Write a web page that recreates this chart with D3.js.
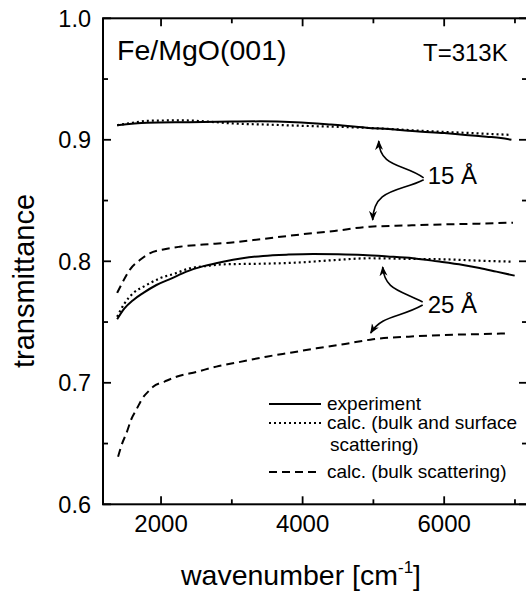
<!DOCTYPE html>
<html>
<head>
<meta charset="utf-8">
<script src="https://cdn.jsdelivr.net/npm/d3@7"></script>
<style>
  body { margin: 0; background: #fff; }
  text { font-family: Arial, "Liberation Sans", sans-serif; fill: #000; }
</style>
</head>
<body>
<svg id="chart" width="526" height="591"></svg>
<script>
// wavenumber (cm-1) sample points
var expt15X = [1380, 1800, 2400, 3000, 3400, 3900, 4400, 4900, 5300, 5600, 6000, 6300, 6600, 6800, 6950];
var expt15Y = [0.912, 0.914, 0.9145, 0.915, 0.9152, 0.9145, 0.9125, 0.910, 0.9085, 0.907, 0.9055, 0.904, 0.9025, 0.9015, 0.900];
var surf15X = [1380, 1600, 1840, 2300, 2700, 3000, 3500, 4000, 4600, 5200, 5800, 6400, 6950];
var surf15Y = [0.912, 0.914, 0.9157, 0.916, 0.9148, 0.9135, 0.9125, 0.9115, 0.9105, 0.909, 0.907, 0.9055, 0.904];
var bulk15X = [1380, 1450, 1558, 1700, 1840, 2050, 2264, 2600, 2970, 3450, 3912, 4450, 4948, 5500, 6031, 6500, 6972];
var bulk15Y = [0.774, 0.782, 0.793, 0.801, 0.8066, 0.810, 0.812, 0.8138, 0.8153, 0.8185, 0.8217, 0.825, 0.8285, 0.8295, 0.8304, 0.831, 0.8318];

var expt25X = [1380, 1480, 1605, 1750, 1935, 2150, 2359, 2600, 2876, 3150, 3441, 3800, 4147, 4500, 4853, 5200, 5559, 5900, 6266, 6500, 6737, 6996];
var expt25Y = [0.7523, 0.761, 0.768, 0.774, 0.7805, 0.786, 0.7915, 0.796, 0.7997, 0.8025, 0.8044, 0.8055, 0.806, 0.8058, 0.8052, 0.804, 0.8025, 0.800, 0.797, 0.7945, 0.7915, 0.7882];
var surf25X = [1380, 1480, 1605, 1780, 1982, 2200, 2405, 2650, 2876, 3400, 3912, 4450, 4948, 5500, 6031, 6500, 6972];
var surf25Y = [0.7544, 0.765, 0.7737, 0.780, 0.786, 0.790, 0.7942, 0.7962, 0.7975, 0.798, 0.7989, 0.801, 0.8025, 0.802, 0.8016, 0.8005, 0.7997];
var bulk25X = [1393, 1450, 1510, 1580, 1652, 1740, 1840, 1888, 2050, 2217, 2500, 2782, 3100, 3489, 3850, 4195, 4600, 4994, 5500, 5983, 6450, 6920];
var bulk25Y = [0.6392, 0.650, 0.6584, 0.670, 0.678, 0.6875, 0.694, 0.6968, 0.701, 0.705, 0.709, 0.7133, 0.717, 0.7215, 0.725, 0.7284, 0.732, 0.7358, 0.738, 0.7393, 0.740, 0.7407];

var xTicks = [2000, 4000, 6000];
var xMinor = [3000, 5000, 7000];
var yTicks = [0.6, 0.7, 0.8, 0.9, 1.0];
var yMinor = [0.65, 0.75, 0.85, 0.95];

var legendLabels = ["experiment", "calc. (bulk and surface", "calc. (bulk scattering)"];

// annotation arrows in data units: start, ctrl1, ctrl2, tip
var arrows = [
  [[5710, 0.8686], [5442, 0.8801], [5089, 0.8768], [5075, 0.899]],
  [[5710, 0.8671], [5371, 0.857], [5004, 0.8603], [4990, 0.834]],
  [[5696, 0.7665], [5371, 0.7764], [5160, 0.7764], [5131, 0.7953]],
  [[5696, 0.764], [5371, 0.7533], [5117, 0.7558], [4962, 0.741]]
];

var svg = d3.select("#chart");
var pLeft = 103, pRight = 527, pTop = 18.3, pBottom = 504.3;

var x = d3.scaleLinear().domain([1180, 7170]).range([pLeft, pRight]);
var y = d3.scaleLinear().domain([0.6, 1.0]).range([pBottom, pTop]);

var zip = function(xs, ys){ return xs.map(function(v, i){ return [v, ys[i]]; }); };

var series = [
  {pts: zip(expt15X, expt15Y), dash: null},
  {pts: zip(surf15X, surf15Y), dash: "2,3"},
  {pts: zip(bulk15X, bulk15Y), dash: "8,5"},
  {pts: zip(expt25X, expt25Y), dash: null},
  {pts: zip(surf25X, surf25Y), dash: "2,3"},
  {pts: zip(bulk25X, bulk25Y), dash: "8,5"}
];

var line = d3.line()
  .x(function(d){ return x(d[0]); })
  .y(function(d){ return y(d[1]); })
  .curve(d3.curveMonotoneX);

svg.append("g").selectAll("path")
  .data(series)
  .enter()
  .append("path")
  .attr("d", function(d){ return line(d.pts); })
  .attr("fill", "none")
  .attr("stroke", "#000")
  .attr("stroke-width", function(d){ return d.dash == "2,3" ? 2.2 : 2; })
  .attr("stroke-dasharray", function(d){ return d.dash; });

// frame
svg.append("rect")
  .attr("x", pLeft).attr("y", pTop)
  .attr("width", pRight - pLeft).attr("height", pBottom - pTop)
  .attr("fill", "none").attr("stroke", "#000").attr("stroke-width", 2);

// inward ticks on all four sides
var tickG = svg.append("g").attr("stroke", "#000").attr("stroke-width", 1.8);
xTicks.concat(xMinor).forEach(function(v){
  var len = xTicks.indexOf(v) >= 0 ? 8 : 5;
  tickG.append("line").attr("x1", x(v)).attr("x2", x(v)).attr("y1", pBottom).attr("y2", pBottom - len);
  tickG.append("line").attr("x1", x(v)).attr("x2", x(v)).attr("y1", pTop).attr("y2", pTop + len);
});
yTicks.concat(yMinor).forEach(function(v){
  var len = yTicks.indexOf(v) >= 0 ? 8 : 5;
  tickG.append("line").attr("x1", pLeft).attr("x2", pLeft + len).attr("y1", y(v)).attr("y2", y(v));
  tickG.append("line").attr("x1", pRight).attr("x2", pRight - len).attr("y1", y(v)).attr("y2", y(v));
});

svg.append("g").selectAll("text")
  .data(xTicks)
  .enter()
  .append("text")
  .attr("x", function(d){ return x(d); })
  .attr("y", 532)
  .attr("text-anchor", "middle")
  .style("font-size", "24px")
  .text(function(d){ return d; });

svg.append("g").selectAll("text")
  .data(yTicks)
  .enter()
  .append("text")
  .attr("x", 91)
  .attr("y", function(d){ return y(d) + 8.5; })
  .attr("text-anchor", "end")
  .style("font-size", "23.5px")
  .text(function(d){ return d.toFixed(1); });

// axis titles
var xl = svg.append("text")
  .attr("x", 301).attr("y", 585)
  .attr("text-anchor", "middle")
  .style("font-size", "28.5px");
xl.append("tspan").text("wavenumber [cm");
xl.append("tspan").attr("dy", -12).style("font-size", "17px").text("-1");
xl.append("tspan").attr("dy", 12).text("]");

svg.append("text")
  .attr("transform", "translate(34,281) rotate(-90)")
  .attr("text-anchor", "middle")
  .style("font-size", "29px")
  .text("transmittance");

svg.append("text").attr("x", 117).attr("y", 60).style("font-size", "28.5px").text("Fe/MgO(001)");
svg.append("text").attr("x", 423).attr("y", 61).style("font-size", "24px").text("T=313K");

// annotations
svg.append("defs").append("marker")
  .attr("id", "head")
  .attr("viewBox", "0 0 10 10")
  .attr("refX", 9).attr("refY", 5)
  .attr("markerWidth", 10).attr("markerHeight", 10)
  .attr("markerUnits", "userSpaceOnUse")
  .attr("orient", "auto")
  .append("path")
  .attr("d", "M0,1 L10,5 L0,9 L3,5 Z")
  .attr("fill", "#000");

svg.append("g").selectAll("path")
  .data(arrows)
  .enter()
  .append("path")
  .attr("d", function(a){
    var p = a.map(function(q){ return [x(q[0]), y(q[1])]; });
    return "M" + p[0] + "C" + p[1] + " " + p[2] + " " + p[3];
  })
  .attr("fill", "none")
  .attr("stroke", "#000")
  .attr("stroke-width", 1.6)
  .attr("marker-end", "url(#head)");

svg.append("text").attr("x", x(5767)).attr("y", y(0.8636)).style("font-size", "24px").text("15 Å");
svg.append("text").attr("x", x(5767)).attr("y", y(0.7575)).style("font-size", "24px").text("25 Å");

// legend
var legRows = [
  {y: 404, dash: null, text: legendLabels[0]},
  {y: 423, dash: "2,3", text: legendLabels[1]},
  {y: 472, dash: "8,5", text: legendLabels[2]}
];
var leg = svg.append("g");
leg.selectAll("line")
  .data(legRows)
  .enter()
  .append("line")
  .attr("x1", 269).attr("x2", 321)
  .attr("y1", function(d){ return d.y; }).attr("y2", function(d){ return d.y; })
  .attr("stroke", "#000").attr("stroke-width", 2)
  .attr("stroke-dasharray", function(d){ return d.dash; });
leg.selectAll("text")
  .data(legRows)
  .enter()
  .append("text")
  .attr("x", 327)
  .attr("y", function(d){ return d.y + 6; })
  .style("font-size", "19px")
  .text(function(d){ return d.text; });
leg.append("text").attr("x", 330).attr("y", 451).style("font-size", "19px").text("scattering)");
</script>
</body>
</html>
